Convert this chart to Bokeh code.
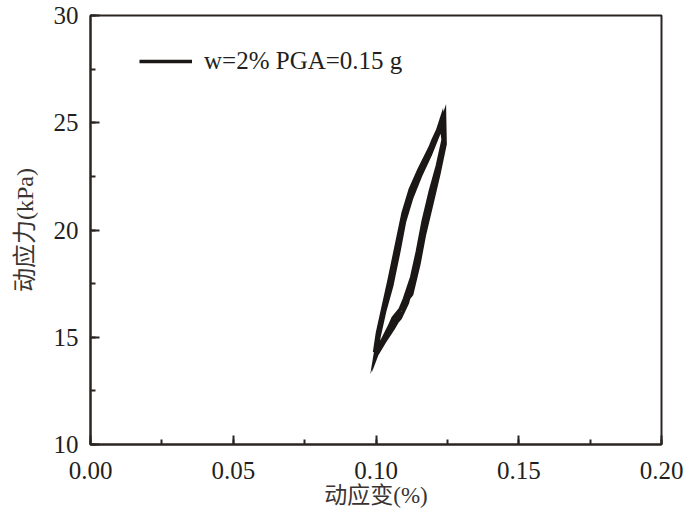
from bokeh.plotting import figure
from bokeh.models import (Range1d, SingleIntervalTicker, NumeralTickFormatter,
                          Legend, LegendItem)
from bokeh.embed import file_html
from bokeh.resources import INLINE

# ---- data ----
x_ticks = [0.00, 0.05, 0.10, 0.15, 0.20]
y_ticks = [10, 15, 20, 25, 30]
series_label = "w=2% PGA=0.15 g"
x_title = "动应变(%)"
y_title = "动应力(kPa)"

strain_c1 = [0.0995, 0.1005, 0.1025, 0.1045, 0.1070, 0.1095, 0.1120, 0.1150, 0.1180, 0.1210, 0.1232,
             0.1238, 0.1230, 0.1205, 0.1180, 0.1160, 0.1140, 0.1120, 0.1095, 0.1060, 0.1030, 0.1003]
stress_c1 = [14.3, 15.2, 16.4, 17.6, 19.2, 20.8, 21.9, 22.8, 23.6, 24.4, 25.3,
             24.6, 23.4, 22.2, 20.9, 19.5, 18.3, 17.2, 16.2, 15.4, 14.8, 14.2]

strain_c2 = [0.1003, 0.1015, 0.1040, 0.1065, 0.1090, 0.1110, 0.1140, 0.1170, 0.1200, 0.1228,
             0.1235, 0.1215, 0.1190, 0.1165, 0.1145, 0.1125, 0.1100, 0.1075, 0.1050, 0.1020, 0.1000]
stress_c2 = [14.2, 15.6, 17.0, 18.4, 19.8, 21.0, 22.2, 23.2, 24.2, 25.0,
             24.2, 23.0, 21.8, 20.4, 19.0, 17.8, 16.8, 16.0, 15.6, 14.8, 14.1]

strain_c3 = [0.1000, 0.1010, 0.1030, 0.1055, 0.1080, 0.1100, 0.1125, 0.1155, 0.1190, 0.1220, 0.1236,
             0.1240, 0.1225, 0.1200, 0.1175, 0.1150, 0.1130, 0.1110, 0.1085, 0.1040, 0.1010, 0.0995]
stress_c3 = [14.1, 15.0, 16.2, 17.4, 19.0, 20.4, 21.5, 22.5, 23.5, 24.5, 25.2,
             24.4, 23.3, 22.0, 20.6, 19.0, 17.6, 16.6, 15.9, 15.2, 14.5, 14.0]

strain_c4 = [0.0995, 0.1005, 0.1030, 0.1060, 0.1085, 0.1105, 0.1130, 0.1165, 0.1200, 0.1225, 0.1240,
             0.1242, 0.1220, 0.1195, 0.1170, 0.1150, 0.1125, 0.1090, 0.1060, 0.1030, 0.1005]
stress_c4 = [14.0, 14.8, 16.6, 18.0, 19.6, 21.0, 21.8, 22.9, 23.9, 24.8, 25.4,
             24.0, 22.6, 21.2, 19.8, 18.4, 17.0, 16.4, 15.9, 15.0, 14.3]

strain = strain_c1 + strain_c2 + strain_c3 + strain_c4
stress = stress_c1 + stress_c2 + stress_c3 + stress_c4

AX = "#2b2522"
SERIF = "Liberation Serif"
CJK = "Liberation Serif, Noto Sans CJK SC"

p = figure(width=684, height=511, output_backend="svg", toolbar_location=None,
           x_range=Range1d(0, 0.2), y_range=Range1d(10, 30),
           min_border_left=90, min_border_right=23, min_border_top=15, min_border_bottom=67)
p.background_fill_color = "white"
p.border_fill_color = "white"
p.outline_line_color = AX
p.outline_line_width = 2
p.grid.visible = False

p.xaxis.ticker = SingleIntervalTicker(interval=0.05, num_minor_ticks=2)
p.yaxis.ticker = SingleIntervalTicker(interval=5, num_minor_ticks=2)
p.xaxis.formatter = NumeralTickFormatter(format="0.00")

for ax in (p.xaxis, p.yaxis):
    ax.axis_line_color = AX
    ax.axis_line_width = 2
    ax.major_tick_line_color = AX
    ax.minor_tick_line_color = AX
    ax.major_tick_line_width = 2
    ax.minor_tick_line_width = 2
    ax.major_tick_in = 9
    ax.major_tick_out = 0
    ax.minor_tick_in = 5
    ax.minor_tick_out = 0
    ax.major_label_text_font = SERIF
    ax.major_label_text_font_size = "25px"
    ax.major_label_text_color = "#231f20"
    ax.axis_label_text_font = CJK
    ax.axis_label_text_font_size = "24px"
    ax.axis_label_text_font_style = "normal"
    ax.axis_label_text_color = "#3a3533"

p.xaxis.axis_label_text_font_size = "23px"
p.xaxis.axis_label = x_title
p.yaxis.axis_label = y_title
p.xaxis.major_label_standoff = 17
p.yaxis.major_label_standoff = 12
p.xaxis.axis_label_standoff = 1
p.yaxis.axis_label_standoff = 13

r = p.line(strain, stress, line_width=3.5, line_color="#1a1716", line_join="miter")

legend = Legend(items=[LegendItem(label=series_label, renderers=[r])],
                location=(49, 369), padding=0, margin=0, spacing=0,
                glyph_width=53, glyph_height=26, label_height=26, label_standoff=12,
                border_line_color=None, background_fill_alpha=0,
                label_text_font=SERIF, label_text_font_size="25px",
                label_text_color="#231f20")
p.add_layout(legend, "center")

open("out.html", "w").write(file_html(p, INLINE))
